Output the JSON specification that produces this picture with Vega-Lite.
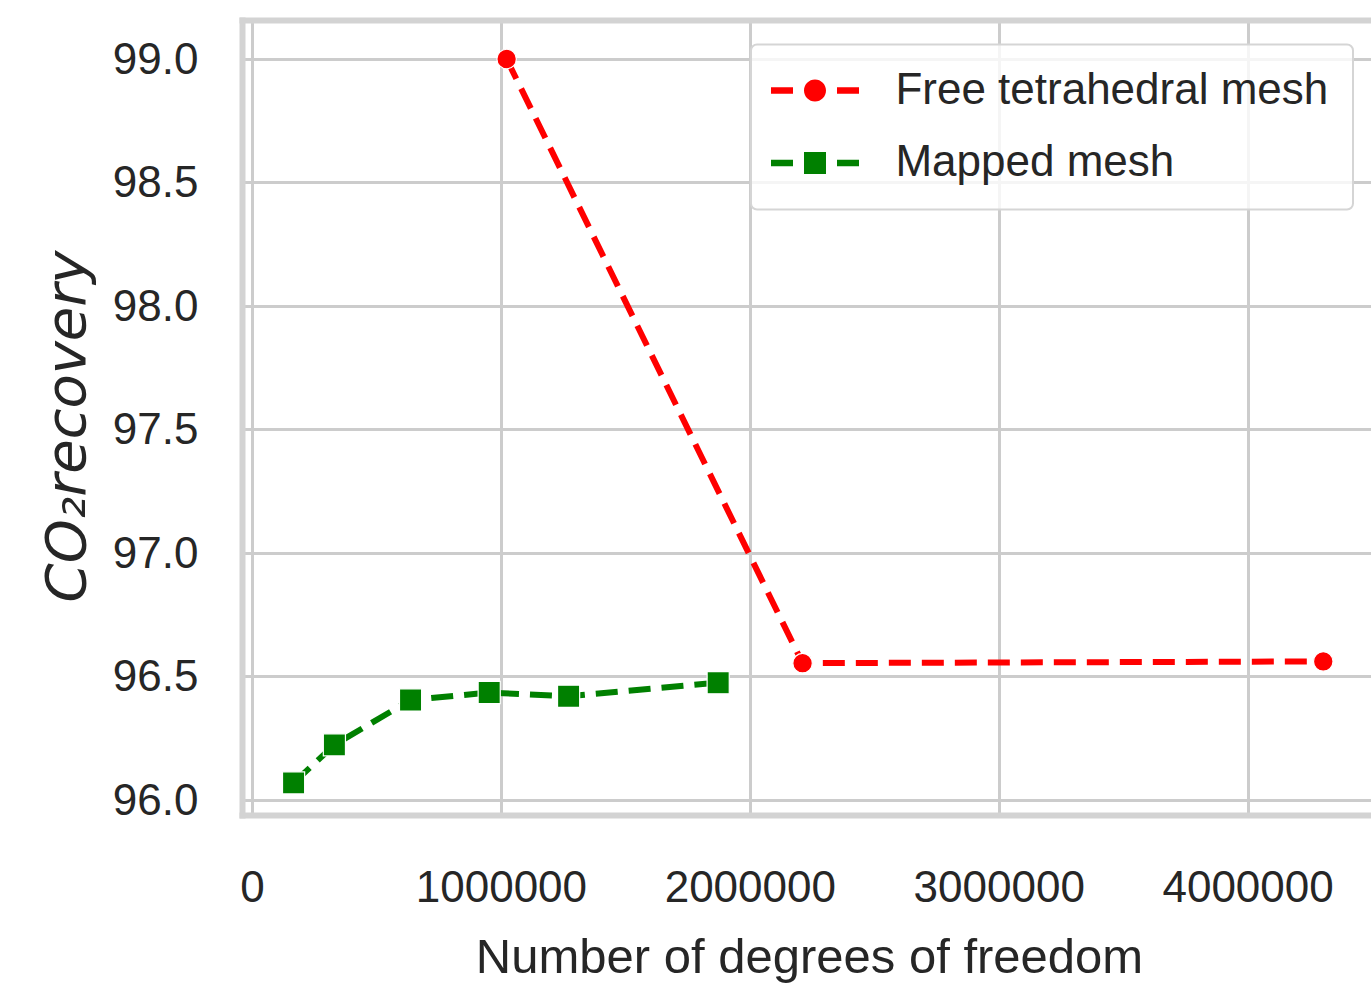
{
  "$schema": "https://vega.github.io/schema/vega-lite/v6.json",
  "width": 1129,
  "height": 795,
  "autosize": {"type": "none"},
  "padding": {"left": 242, "top": 20, "right": 0, "bottom": 168},
  "background": "#ffffff",
  "config": {
    "view": {"stroke": null},
    "axis": {
      "domainColor": "#d3d3d3",
      "domainWidth": 6,
      "domainCap": "square",
      "gridColor": "#cccccc",
      "gridWidth": 3,
      "ticks": false,
      "tickSize": 0,
      "labelFont": "Liberation Sans, Arial",
      "labelFontSize": 44,
      "labelColor": "#262626",
      "labelLimit": 1000,
      "labelFlush": false,
      "labelOverlap": false,
      "labelBound": false,
      "titleColor": "#262626",
      "titleFontWeight": "normal",
      "titleLimit": 2000
    },
    "legend": {
      "strokeColor": "#d5d5d5",
      "strokeWidth": 2,
      "cornerRadius": 6,
      "fillColor": "rgba(255,255,255,0.8)"
    }
  },
  "data": {
    "values": [
      {"mesh": "Free tetrahedral mesh", "dof": 1023000, "recovery": 99.0},
      {"mesh": "Free tetrahedral mesh", "dof": 2212000, "recovery": 96.553},
      {"mesh": "Free tetrahedral mesh", "dof": 4304000, "recovery": 96.56},
      {"mesh": "Mapped mesh", "dof": 167000, "recovery": 96.068},
      {"mesh": "Mapped mesh", "dof": 331000, "recovery": 96.222},
      {"mesh": "Mapped mesh", "dof": 637000, "recovery": 96.404},
      {"mesh": "Mapped mesh", "dof": 953000, "recovery": 96.434},
      {"mesh": "Mapped mesh", "dof": 1272000, "recovery": 96.419},
      {"mesh": "Mapped mesh", "dof": 1873000, "recovery": 96.474}
    ]
  },
  "encoding": {
    "y": {
      "field": "recovery",
      "type": "quantitative",
      "scale": {"domain": [95.938, 99.158], "nice": false, "zero": false},
      "axis": {
        "values": [96, 96.5, 97, 97.5, 98, 98.5, 99],
        "format": ".1f",
        "labelPadding": 44,
        "labelBaseline": "alphabetic",
        "labelOffset": 14.5,
        "title": "CO₂recovery",
        "titleFont": "DejaVu Sans",
        "titleFontStyle": "italic",
        "titleFontSize": 56,
        "titleAngle": -90,
        "titleBaseline": "alphabetic",
        "titleAlign": "center",
        "titleX": -158,
        "titleY": 406
      }
    }
  },
  "layer": [
    {
      "transform": [{"filter": "datum.mesh === 'Free tetrahedral mesh'"}],
      "mark": {"type": "line", "color": "#ff0000", "strokeWidth": 6, "strokeDash": [22, 11]},
      "encoding": {
        "x": {
          "field": "dof",
          "type": "quantitative",
          "scale": {"domain": [-40200, 4495800], "nice": false, "zero": false},
          "axis": {
            "orient": "bottom",
            "values": [0, 1000000, 2000000, 3000000, 4000000],
            "format": "d",
            "labelPadding": 86,
            "labelBaseline": "alphabetic",
            "title": "Number of degrees of freedom",
            "titleFont": "Liberation Sans, Arial",
            "titleFontSize": 49,
            "titleBaseline": "alphabetic",
            "titleAlign": "center",
            "titleX": 567,
            "titleY": 157
          }
        }
      }
    },
    {
      "transform": [{"filter": "datum.mesh === 'Mapped mesh'"}],
      "mark": {"type": "line", "color": "#008000", "strokeWidth": 6, "strokeDash": [22, 11]},
      "encoding": {
        "x": {
          "field": "dof",
          "type": "quantitative",
          "scale": {"domain": [-40200, 4495800], "nice": false, "zero": false},
          "axis": {
            "orient": "top",
            "labels": false,
            "grid": false,
            "ticks": false,
            "title": null
          }
        }
      }
    },
    {
      "transform": [{"filter": "datum.mesh === 'Free tetrahedral mesh'"}],
      "mark": {"type": "point", "filled": true, "shape": "circle", "size": 380, "color": "#ff0000", "stroke": "#ffffff", "strokeWidth": 1.2, "opacity": 1},
      "encoding": {
        "x": {"field": "dof", "type": "quantitative", "axis": null}
      }
    },
    {
      "transform": [{"filter": "datum.mesh === 'Mapped mesh'"}],
      "mark": {"type": "point", "filled": true, "shape": "square", "size": 490, "color": "#008000", "stroke": "#ffffff", "strokeWidth": 1.2, "opacity": 1},
      "encoding": {
        "x": {"field": "dof", "type": "quantitative", "axis": null}
      }
    },
    {
      "mark": {"type": "point", "filled": true, "opacity": 0, "size": 484},
      "encoding": {
        "x": {"field": "dof", "type": "quantitative", "axis": null},
        "color": {
          "field": "mesh",
          "type": "nominal",
          "scale": {"domain": ["Free tetrahedral mesh", "Mapped mesh"], "range": ["#ff0000", "#008000"]},
          "legend": {
            "title": null,
            "orient": "none",
            "legendX": 509,
            "legendY": 24.5,
            "padding": 24,
            "rowPadding": 28.5,
            "symbolSize": 484,
            "symbolOffset": 18,
            "symbolStrokeWidth": 0,
            "symbolOpacity": 1,
            "labelOffset": 58.4,
            "labelLimit": 2000,
            "labelFont": "Liberation Sans, Arial",
            "labelFontSize": 44,
            "labelColor": "#262626"
          }
        },
        "shape": {
          "field": "mesh",
          "type": "nominal",
          "scale": {
            "domain": ["Free tetrahedral mesh", "Mapped mesh"],
            "range": [
              "M1,0A1,1,0,1,1,-1,0A1,1,0,1,1,1,0Z M-4,-0.3H-2V0.3H-4Z M2,-0.3H4V0.3H2Z",
              "M-1,-1H1V1H-1Z M-4,-0.3H-2V0.3H-4Z M2,-0.3H4V0.3H2Z"
            ]
          },
          "legend": {
            "title": null,
            "orient": "none",
            "legendX": 509,
            "legendY": 24.5,
            "padding": 24,
            "rowPadding": 28.5,
            "symbolSize": 484,
            "symbolOffset": 18,
            "symbolStrokeWidth": 0,
            "symbolOpacity": 1,
            "labelOffset": 58.4,
            "labelLimit": 2000,
            "labelFont": "Liberation Sans, Arial",
            "labelFontSize": 44,
            "labelColor": "#262626"
          }
        }
      }
    }
  ],
  "resolve": {"axis": {"x": "independent"}}
}
